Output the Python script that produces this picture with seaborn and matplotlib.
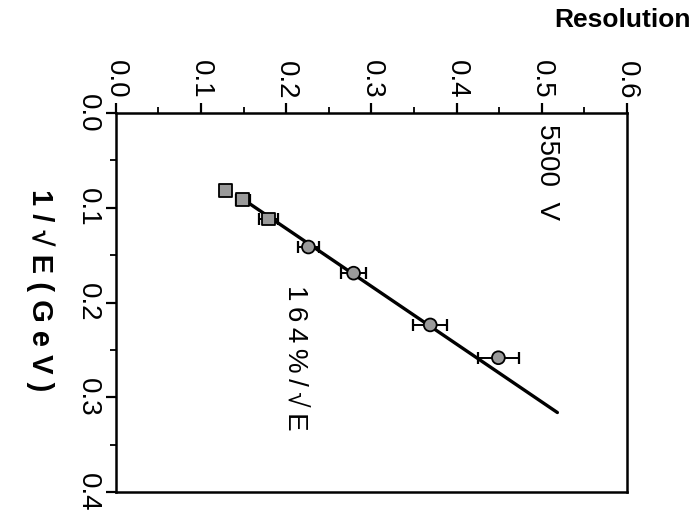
import numpy as np
import pandas as pd
import matplotlib
matplotlib.use("Agg")
import matplotlib.pyplot as plt
from matplotlib.ticker import MultipleLocator, FormatStrFormatter
import seaborn as sns

# Measured points: 1/sqrt(E) in GeV^-1/2 and energy resolution
inv_sqrt_e = [0.0816, 0.0913, 0.1118, 0.1414, 0.1690, 0.2236, 0.2582]
resolution = [0.129, 0.149, 0.179, 0.226, 0.279, 0.369, 0.449]
res_err = [0.004, 0.008, 0.011, 0.012, 0.015, 0.020, 0.024]
marker_kind = ["square", "square", "square", "circle", "circle", "circle", "circle"]

# Stochastic-term fit: sigma/E = 1.64 / sqrt(E)
fit_coeff = 1.64
fit_range = [0.0913, 0.316]

sns.set_theme(style="white")
plt.rcParams["font.family"] = ["Liberation Sans", "DejaVu Sans"]
plt.rcParams["text.color"] = "black"
plt.rcParams["xtick.color"] = "black"
plt.rcParams["ytick.color"] = "black"

df = pd.DataFrame({"inv": inv_sqrt_e, "res": resolution, "err": res_err, "kind": marker_kind})
fit_x = np.array(fit_range)
fit_df = pd.DataFrame({"inv": fit_x, "res": fit_coeff * fit_x})

fig = plt.figure(figsize=(6.94, 5.23), dpi=100)
ax = fig.add_axes([0.167, 0.059, 0.7365, 0.725])

# fit line
sns.lineplot(data=fit_df, x="res", y="inv", ax=ax, color="black", lw=2.4,
             sort=False, estimator=None, zorder=2)

# horizontal error bars
ax.errorbar(df["res"], df["inv"], xerr=df["err"], fmt="none", ecolor="black",
            elinewidth=1.4, capsize=4.5, capthick=1.6, zorder=3)

sns.scatterplot(data=df, x="res", y="inv", style="kind",
                markers={"square": "s", "circle": "o"}, s=85,
                color="#9a9a9a", edgecolor="black", linewidth=1.3,
                legend=False, ax=ax, zorder=4)

ax.set_xlim(0.0, 0.6)
ax.set_ylim(0.4, 0.0)

ax.xaxis.tick_top()
ax.xaxis.set_major_locator(MultipleLocator(0.1))
ax.xaxis.set_minor_locator(MultipleLocator(0.05))
ax.yaxis.set_major_locator(MultipleLocator(0.1))
ax.yaxis.set_minor_locator(MultipleLocator(0.05))
ax.xaxis.set_major_formatter(FormatStrFormatter("%.1f"))
ax.yaxis.set_major_formatter(FormatStrFormatter("%.1f"))

ax.tick_params(axis="x", which="major", direction="out", length=7, width=1.6,
               top=True, bottom=False, labeltop=True, labelbottom=False,
               labelsize=20, labelrotation=-90, pad=3, colors="black")
ax.tick_params(axis="x", which="minor", direction="out", length=4, width=1.3,
               top=True, bottom=False)
ax.tick_params(axis="y", which="major", direction="out", length=7, width=1.6,
               left=True, right=False, labelsize=20, labelrotation=-90, pad=4,
               colors="black")
ax.tick_params(axis="y", which="minor", direction="out", length=4, width=1.3,
               left=True, right=False)
for lbl in ax.get_yticklabels():
    lbl.set_verticalalignment("center")

for sp in ax.spines.values():
    sp.set_visible(True)
    sp.set_color("black")
    sp.set_linewidth(1.8)

ax.set_xlabel("")
ax.set_ylabel("")

fig.text(0.995, 0.985, "Resolution", ha="right", va="top", fontsize=19,
         fontweight="bold")
fig.text(0.058, 0.445, " ".join("1/\u221aE(GeV)"), ha="center", va="center",
         fontsize=21, fontweight="bold", rotation=-90)

ax.text(0.506, 0.012, "5500  V", ha="center", va="top", fontsize=20, rotation=-90)
ax.text(0.21, 0.181, "\u2009".join("164%/\u221aE"), ha="center", va="top",
        fontsize=20, rotation=-90)

fig.savefig("out.png", dpi=100)
